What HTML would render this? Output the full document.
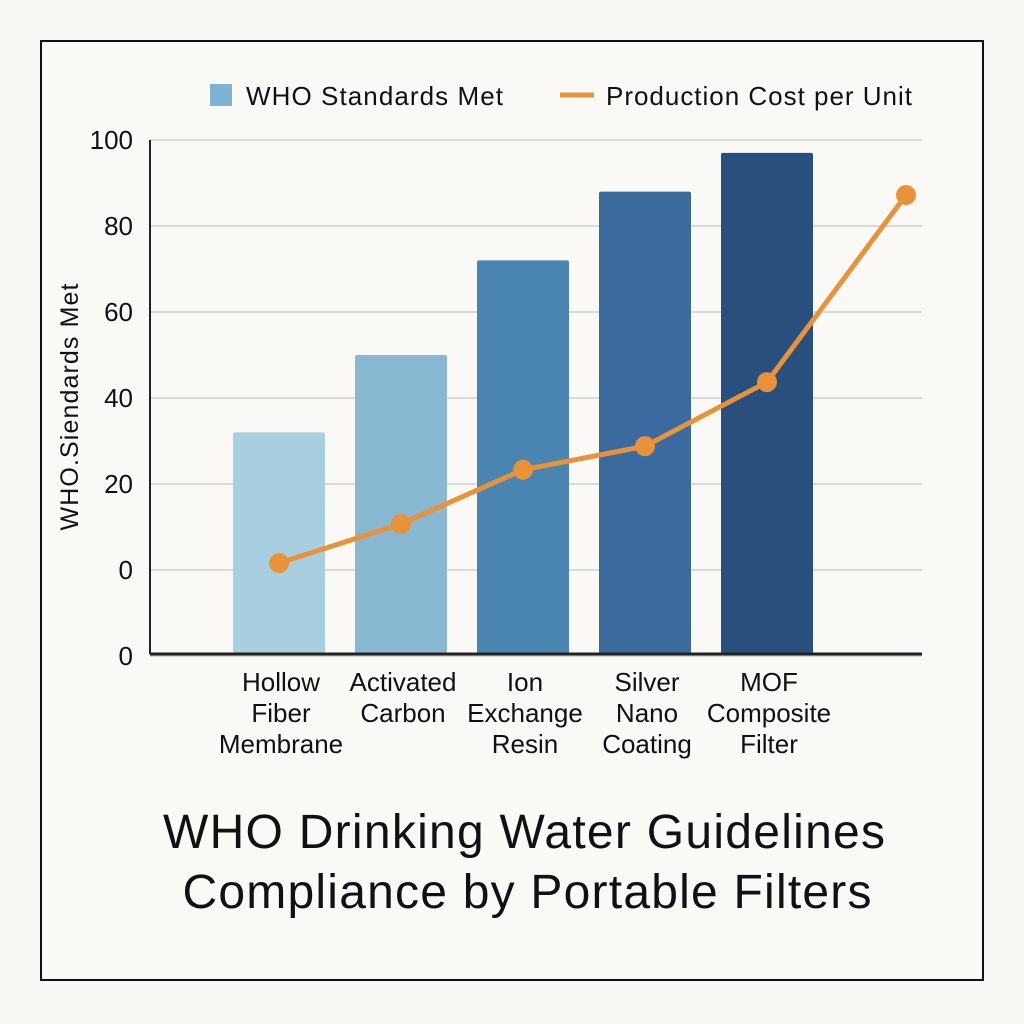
<!DOCTYPE html>
<html><head><meta charset="utf-8"><style>
html,body{margin:0;padding:0;background:#f8f7f4;}
svg{display:block;font-family:"Liberation Sans",sans-serif;}
</style></head><body>
<svg id="chart" width="1024" height="1024" viewBox="0 0 1024 1024">
<rect x="0" y="0" width="1024" height="1024" fill="#f8f7f4"/>
<rect x="41" y="41" width="942" height="939" fill="#faf9f6" stroke="#111" stroke-width="2"/>
<g>
<rect x="210" y="84" width="22" height="22" fill="#7fb3d5"/>
<text x="246" y="105" font-size="26" textLength="257" fill="#111">WHO Standards Met</text>
<line x1="560" y1="95" x2="594" y2="95" stroke="#e8923a" stroke-width="5"/>
<text x="606" y="105" font-size="26" textLength="306" fill="#111">Production Cost per Unit</text>
</g>
<g id="grid"></g><g id="bars"></g><g id="line"></g><g id="labels"></g>
<line x1="150" y1="140" x2="150" y2="654" stroke="#222" stroke-width="2"/>
<line x1="150" y1="654" x2="922" y2="654" stroke="#222" stroke-width="3"/>
<text transform="translate(78,407) rotate(-90)" text-anchor="middle" font-size="25" textLength="247" fill="#111">WHO.Siendards Met</text>
<text x="524" y="848" text-anchor="middle" font-size="48" textLength="722" fill="#111">WHO Drinking Water Guidelines</text>
<text x="527" y="908" text-anchor="middle" font-size="48" textLength="689" fill="#111">Compliance by Portable Filters</text>
</svg>
<script>
const categories=[["Hollow","Fiber","Membrane"],["Activated","Carbon"],["Ion","Exchange","Resin"],["Silver","Nano","Coating"],["MOF","Composite","Filter"]];
const whoValues=[32,50,72,88,97];
const costValues=[1.6,10.7,23.3,28.8,43.7,87.2];
const tickLabels=["100","80","60","40","20","0","0"];
const tickValues=[100,80,60,40,20,0,-20];
const barColors=["#a7cfe0","#88b8d2","#4a84b0","#3a6a9e","#284f7d"];
const NS="http://www.w3.org/2000/svg";
const yS=v=>570-v*4.3;
const xS=i=>i<5?279+i*122:906;
const baseY=654;
function mk(t,a,p){const e=document.createElementNS(NS,t);for(const k in a)e.setAttribute(k,a[k]);p.appendChild(e);return e;}
const grid=document.getElementById('grid'),bars=document.getElementById('bars'),line=document.getElementById('line'),labels=document.getElementById('labels');
tickValues.forEach((v,i)=>{
 const g=mk('line',{x1:150,x2:922,y1:yS(v),y2:yS(v),stroke:'#cfcfcf','stroke-width':1.5},grid);
 
 
 const t=mk('text',{x:133,y:yS(v)+9,'text-anchor':'end','font-size':26,fill:'#111'},labels);
 t.textContent=tickLabels[i];
 
 
});
whoValues.forEach((v,i)=>{
 const r=mk('rect',{x:xS(i)-46,y:yS(v),width:92,height:baseY-yS(v),fill:barColors[i],rx:2},bars);
 
 
 categories[i].forEach((s,j)=>{
  const t=mk('text',{x:xS(i)+2,y:691+j*31,'text-anchor':'middle','font-size':26,fill:'#111'},labels);
  t.textContent=s;
  
  
 });
});
const pts=costValues.map((v,i)=>xS(i)+','+yS(v)).join(' ');
const pl=mk('polyline',{points:pts,fill:'none',stroke:'#e8923a','stroke-width':5,'stroke-linejoin':'round'},line);


costValues.forEach((v,i)=>{
 const c=mk('circle',{cx:xS(i),cy:yS(v),r:10,fill:'#e8923a'},line);
 
 
});
</script>
</body></html>
